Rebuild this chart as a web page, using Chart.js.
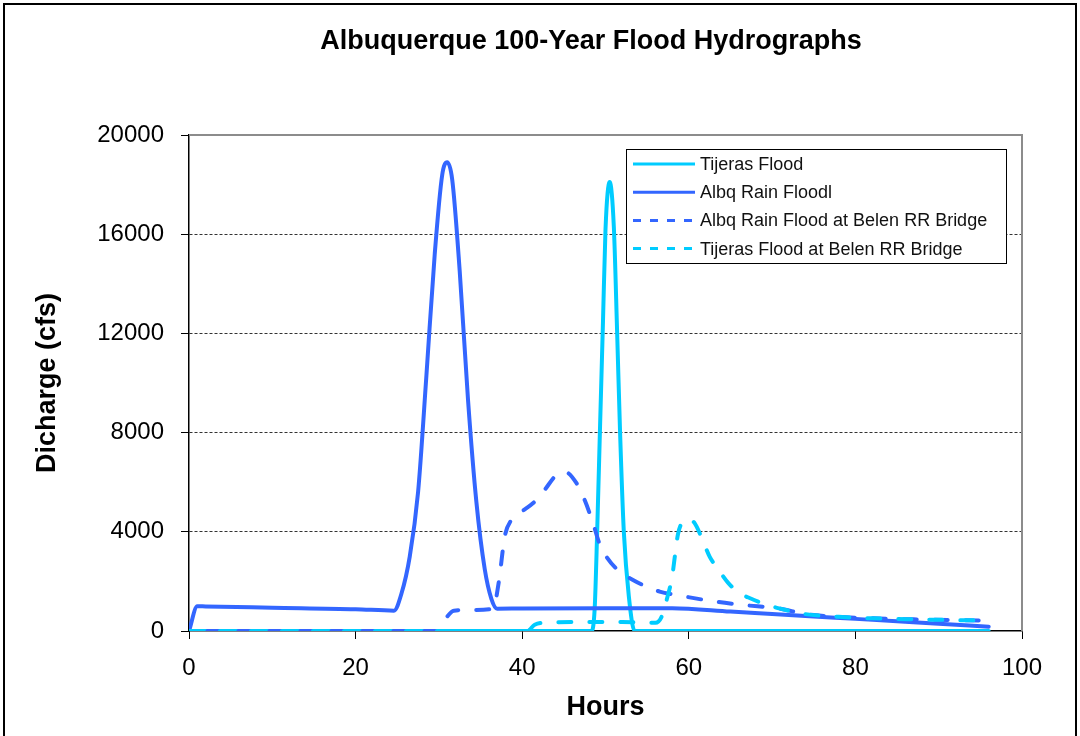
<!DOCTYPE html>
<html>
<head>
<meta charset="utf-8">
<title>Albuquerque 100-Year Flood Hydrographs</title>
<script src="https://cdn.jsdelivr.net/npm/chart.js@4.4.0/dist/chart.umd.min.js"></script>
<style>
  html, body { margin: 0; padding: 0; background: #fff; }
  #wrap { width: 1080px; height: 736px; }
</style>
</head>
<body>
<div id="wrap"><canvas id="floodChart" width="1080" height="736"></canvas></div>
<script>
const chartTitle = 'Albuquerque 100-Year Flood Hydrographs';
const seriesNames = ['Tijeras Flood', 'Albq Rain Floodl', 'Albq Rain Flood at Belen RR Bridge', 'Tijeras Flood at Belen RR Bridge'];
const xTicks = [0, 20, 40, 60, 80, 100];
const yTicks = [0, 4000, 8000, 12000, 16000, 20000];

// hours / discharge (cfs)
const tijerasHours = [0, 20, 40, 48.3, 48.7, 49.0, 49.35, 49.7, 50.0, 50.5, 51.0, 51.4, 51.75, 52.2, 52.8, 53.5, 60, 80, 96];
const tijerasCfs   = [0, 0, 0, 0, 900, 4000, 8300, 12500, 16200, 18100, 16300, 12000, 8000, 4000, 1400, 0, 0, 0, 0];

const albqHours = [0, 1, 2, 10, 20, 24.6, 25.5, 26.5, 27.5, 28.5, 29.5, 30.4, 31, 31.6, 32.5, 33.5, 34.5, 35.5, 36.3, 37, 40, 50, 58, 65, 70, 75, 80, 85, 90, 96];
const albqCfs   = [0, 1000, 990, 940, 880, 820, 1500, 3000, 5600, 10300, 15200, 18400, 18900, 18200, 14500, 9300, 5200, 2500, 1300, 900, 910, 920, 920, 783, 685, 587, 489, 391, 293, 175];

// both Belen curves share the same tail from 71 h on
const albqBelenHours = [0, 20, 29.8, 30.8, 31.8, 34, 36.5, 37.2, 37.9, 38.7, 39.7, 41.7, 42.7, 44.1, 45.1, 46.5, 47.5, 48.5, 49.3, 50.1, 51.7, 53.3, 54.9, 56.5, 58.9, 62.9, 66.5, 71, 74, 78, 82, 87, 92, 96];
const albqBelenCfs   = [0, 0, 0, 500, 820, 850, 900, 2000, 3800, 4480, 4750, 5280, 5690, 6290, 6420, 5970, 5280, 4350, 3500, 3000, 2390, 2060, 1790, 1590, 1430, 1200, 1050, 900, 680, 570, 510, 470, 440, 420];

const tijerasBelenHours = [0, 20, 40.6, 41.5, 43, 47, 52, 56, 56.7, 57.3, 58, 58.7, 59.4, 60, 60.7, 61.5, 62.5, 63.5, 64.7, 66, 67.5, 69, 71, 74, 78, 82, 87, 92, 96];
const tijerasBelenCfs   = [0, 0, 0, 250, 340, 360, 360, 330, 550, 1200, 2200, 3900, 4450, 4520, 4350, 3800, 3000, 2500, 1950, 1550, 1300, 1100, 900, 680, 570, 510, 470, 440, 420];

const cyan = '#00CCFF';
const blue = '#3366FF';
const fontFam = "'Liberation Sans', Arial, sans-serif";
const dashPat = [13, 18];

function pts(hours, cfs) {
  return hours.map((h, i) => ({x: h, y: cfs[i]}));
}

Chart.defaults.font.family = fontFam;
Chart.defaults.color = '#000';

// path length (px) of a drawn dataset up to the given hour
function pathLen(meta, hours, hour) {
  let len = 0;
  const d = meta.data;
  for (let i = 1; i < d.length; i++) {
    if (hours[i - 1] >= hour) break;
    len += Math.hypot(d[i].x - d[i - 1].x, d[i].y - d[i - 1].y);
  }
  return len;
}

// white background, outer frame, grey plot frame; line up the dashes of the shared tail
const framePlugin = {
  id: 'frame',
  beforeDraw(chart) {
    const c = chart.ctx;
    c.save();
    c.fillStyle = '#fff';
    c.fillRect(0, 0, chart.width, chart.height);
    c.strokeStyle = '#000';
    c.lineWidth = 2;
    c.strokeRect(4, 4, 1072, 740);
    c.restore();
  },
  beforeDatasetsDraw(chart) {
    const a = chart.chartArea, c = chart.ctx;
    c.save();
    c.strokeStyle = '#8c8c8c';
    c.lineWidth = 2;
    c.beginPath();
    c.moveTo(a.left, a.top);
    c.lineTo(a.right, a.top);
    c.lineTo(a.right, a.bottom);
    c.stroke();
    c.restore();

    try {
      const mb = chart.getDatasetMeta(2), mc = chart.getDatasetMeta(3);
      const per = dashPat[0] + dashPat[1];
      const off = ((pathLen(mb, albqBelenHours, 74) - pathLen(mc, tijerasBelenHours, 74)) % per + per) % per;
      mb.dataset.options.borderDashOffset = off;
    } catch (e) { /* keep default dash phase */ }
  }
};

// title + boxed legend in the top right of the plot
const textPlugin = {
  id: 'texts',
  afterDraw(chart) {
    const c = chart.ctx, a = chart.chartArea;
    c.save();
    c.fillStyle = '#000';
    c.font = 'bold 27px ' + fontFam;
    c.textAlign = 'center';
    c.textBaseline = 'middle';
    c.fillText(chartTitle, 591, 42);

    const bx = a.right - 396, by = a.top + 14, bw = 380, bh = 114;
    c.fillStyle = '#fff';
    c.fillRect(bx, by, bw, bh);
    c.strokeStyle = '#000';
    c.lineWidth = 1;
    c.strokeRect(bx + 0.5, by + 0.5, bw, bh);
    c.font = '18px ' + fontFam;
    c.textAlign = 'left';
    chart.data.datasets.forEach((ds, i) => {
      const y = by + 15 + i * 28.2;
      c.strokeStyle = ds.borderColor;
      c.lineWidth = 3;
      c.setLineDash(ds.borderDash.length ? [8, 9] : []);
      c.beginPath();
      c.moveTo(bx + 7, y);
      c.lineTo(bx + 69, y);
      c.stroke();
      c.setLineDash([]);
      c.fillStyle = '#111';
      c.fillText(ds.label, bx + 74, y + 1);
    });
    c.restore();
  }
};

const ctx = document.getElementById('floodChart');
new Chart(ctx, {
  type: 'line',
  data: {
    datasets: [
      {label: seriesNames[0], data: pts(tijerasHours, tijerasCfs), borderColor: cyan, borderDash: [], order: 3},
      {label: seriesNames[1], data: pts(albqHours, albqCfs), borderColor: blue, borderDash: [], order: 2},
      {label: seriesNames[2], data: pts(albqBelenHours, albqBelenCfs), borderColor: blue, borderDash: dashPat, order: 1},
      {label: seriesNames[3], data: pts(tijerasBelenHours, tijerasBelenCfs), borderColor: cyan, borderDash: dashPat, order: 0}
    ]
  },
  options: {
    responsive: false,
    animation: false,
    devicePixelRatio: 1,
    layout: {padding: {left: 4, right: 58, top: 135, bottom: 0}},
    elements: {
      point: {radius: 0},
      line: {borderWidth: 4, cubicInterpolationMode: 'monotone', borderCapStyle: 'round', borderJoinStyle: 'round', fill: false}
    },
    plugins: {
      legend: {display: false},
      title: {display: false},
      tooltip: {enabled: false}
    },
    scales: {
      x: {
        type: 'linear',
        min: 0,
        max: 100,
        afterBuildTicks: s => { s.ticks = xTicks.map(v => ({value: v})); },
        afterFit: s => { s.height = 105; },
        ticks: {font: {size: 24}, color: '#000', padding: 15, maxRotation: 0, callback: v => String(v)},
        grid: {drawOnChartArea: false, drawTicks: true, tickLength: 8, tickColor: '#000', tickWidth: 1},
        border: {color: '#000', width: 1.5},
        title: {display: true, text: 'Hours', font: {size: 27, weight: 'bold'}, color: '#000', padding: {top: 0, bottom: 12}}
      },
      y: {
        type: 'linear',
        min: 0,
        max: 20000,
        afterBuildTicks: s => { s.ticks = yTicks.map(v => ({value: v})); },
        afterFit: s => { s.width = 185; },
        ticks: {font: {size: 24}, color: '#000', padding: 17, callback: v => String(v)},
        grid: {
          color: c => (c.tick && (c.tick.value === 0 || c.tick.value === 20000)) ? 'rgba(0,0,0,0)' : '#333',
          lineWidth: 1,
          tickLength: 8,
          tickColor: '#000',
          tickWidth: 1
        },
        border: {color: '#000', width: 1.5, dash: [3, 2]},
        title: {display: true, text: 'Dicharge (cfs)', font: {size: 27, weight: 'bold'}, color: '#000', padding: {top: 27, bottom: 0}}
      }
    }
  },
  plugins: [framePlugin, textPlugin]
});
</script>
</body>
</html>
